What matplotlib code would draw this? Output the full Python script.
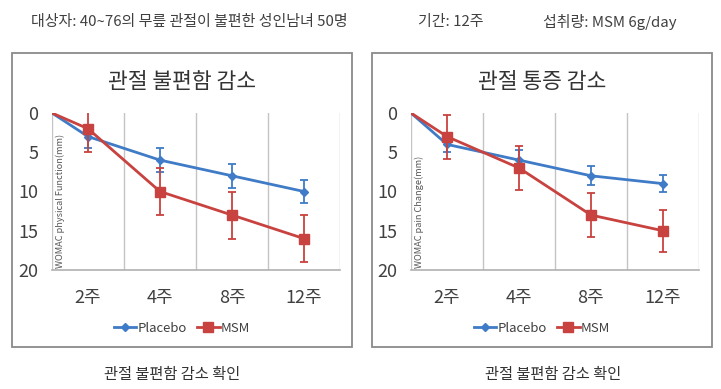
import matplotlib.pyplot as plt
import numpy as np
from matplotlib.patches import Rectangle

plt.rcParams['font.family'] = ['Noto Sans CJK KR', 'DejaVu Sans']

# data (start point at 0, then 2/4/8/12 weeks)
weeks = ['2주', '4주', '8주', '12주']
placebo_func = [0, 3, 6, 8, 10]
placebo_func_err = [0, 1.5, 1.5, 1.5, 1.5]
msm_func = [0, 2, 10, 13, 16]
msm_func_err = [0, 3, 3, 3, 3]
placebo_pain = [0, 4, 6, 8, 9]
placebo_pain_err = [0, 1.0, 1.3, 1.2, 1.1]
msm_pain = [0, 3, 7, 13, 15]
msm_pain_err = [0, 2.8, 2.8, 2.8, 2.7]

BLUE = '#3F7BC6'
RED = '#C8423F'
TXT = '#404040'
W, H = 721, 389

fig = plt.figure(figsize=(W / 100, H / 100), dpi=100)


def fx(px):
    return px / W


def fy(py):
    return 1 - py / H


def draw_chart(left_px, box, title, ylabel, plc, plc_err, msm, msm_err):
    # frame around each chart
    x0, x1 = box
    fig.add_artist(Rectangle((fx(x0), fy(347)), fx(x1 - x0), (347 - 53) / H,
                             transform=fig.transFigure, fill=False,
                             edgecolor='#8a8a8a', lw=1.3))
    cx = (x0 + x1) / 2
    fig.text(fx(cx), fy(82), title, ha='center', va='center',
             fontsize=15.5, color='#333333')

    ax = fig.add_axes([fx(left_px), fy(270), fx(288), 157 / H])
    x = np.r_[0, np.arange(len(weeks)) + 0.5]
    ax.set_xlim(0, len(weeks))
    ax.set_ylim(20, 0)
    for gx in range(len(weeks) + 1):
        ax.axvline(gx, color='#c4c4c4', lw=1, zorder=0)
    ax.axhline(20, color='#b0b0b0', lw=1.2, zorder=0, clip_on=False)
    for s in ax.spines.values():
        s.set_visible(False)

    ax.plot(x, plc, color=BLUE, lw=2, zorder=3)
    ax.errorbar(x[1:], plc[1:], yerr=plc_err[1:], fmt='D', color=BLUE,
                ms=4, capsize=3, elinewidth=1.3, capthick=1.3, zorder=4)
    ax.plot(x, msm, color=RED, lw=2, zorder=5)
    ax.errorbar(x[1:], msm[1:], yerr=msm_err[1:], fmt='s', color=RED,
                ms=7, capsize=3, elinewidth=1.3, capthick=1.3, zorder=6)

    ax.set_yticks([0, 5, 10, 15, 20])
    ax.set_xticks(x[1:])
    ax.set_xticklabels(weeks)
    ax.tick_params(axis='y', length=0, pad=10, labelsize=13, labelcolor=TXT)
    ax.tick_params(axis='x', length=0, pad=14, labelsize=13, labelcolor=TXT)
    ax.text(0.012, 0.01, ylabel, rotation=90, transform=ax.transAxes,
            ha='left', va='bottom', fontsize=6.6, color='#555555')

    hp, = ax.plot([], [], color=BLUE, lw=2, marker='D', ms=4)
    hm, = ax.plot([], [], color=RED, lw=2, marker='s', ms=7)
    fig.legend([hp, hm], ['Placebo', 'MSM'], loc='center',
               bbox_to_anchor=(fx(cx), fy(328)), ncol=2, frameon=False,
               fontsize=9.5, handlelength=1.7, handletextpad=0.1,
               columnspacing=0.8, labelcolor=TXT)


draw_chart(52, (12, 352), '관절 불편함 감소', 'WOMAC physical Function(mm)',
           placebo_func, placebo_func_err, msm_func, msm_func_err)
draw_chart(411, (372, 712), '관절 통증 감소', 'WOMAC pain Change(mm)',
           placebo_pain, placebo_pain_err, msm_pain, msm_pain_err)

# header and captions
fig.text(fx(31), fy(22), '대상자: 40~76의 무릎 관절이 불편한 성인남녀 50명',
         ha='left', va='center', fontsize=10.8, color=TXT)
fig.text(fx(418), fy(22), '기간: 12주', ha='left', va='center',
         fontsize=10.8, color=TXT)
fig.text(fx(543), fy(22), '섭취량: MSM 6g/day', ha='left', va='center',
         fontsize=10.8, color=TXT)
fig.text(fx(172), fy(374), '관절 불편함 감소 확인', ha='center', va='center',
         fontsize=11, color='#333333')
fig.text(fx(553), fy(374), '관절 불편함 감소 확인', ha='center', va='center',
         fontsize=11, color='#333333')

fig.savefig('out.png', dpi=100)
